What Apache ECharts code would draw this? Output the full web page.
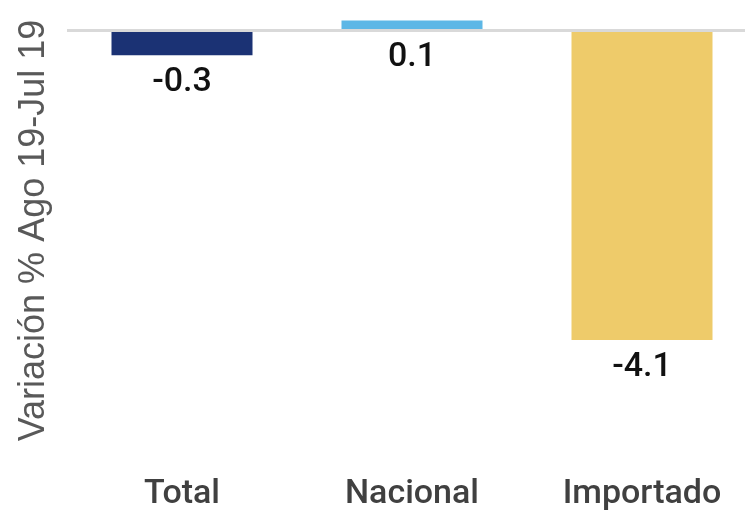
<!DOCTYPE html>
<html>
<head>
<meta charset="utf-8">
<script src="https://cdn.jsdelivr.net/npm/echarts@6/dist/echarts.min.js"></script>
<style>html,body{margin:0;padding:0;background:#fff;}#c{width:745px;height:513px;}</style>
</head>
<body>
<div id="c"></div>
<script>
const categories = ['Total', 'Nacional', 'Importado'];
const values = [-0.33, 0.13, -4.1];
const colors = ['#1b3274', '#5db7e6', '#eecb6a'];
const yAxisName = 'Variación % Ago 19-Jul 19';

const chart = echarts.init(document.getElementById('c'));
chart.setOption({
  animation: false,
  grid: { left: 67, top: 0, width: 690, height: 461, outerBoundsMode: 'none', containLabel: false },
  xAxis: {
    type: 'category',
    data: categories,
    axisLine: { show: false, onZero: false },
    axisTick: { show: false },
    axisLabel: { margin: 16, fontSize: 34, fontFamily: 'Roboto', fontWeight: 500, color: '#404040' }
  },
  yAxis: {
    type: 'value',
    min: -5.7,
    max: 0.4,
    axisLine: { show: false },
    axisTick: { show: false },
    axisLabel: { show: false },
    splitLine: { show: false },
    name: yAxisName,
    nameLocation: 'middle',
    nameRotate: 90,
    nameGap: 15,
    nameTextStyle: { fontSize: 36, fontFamily: 'Liberation Sans', color: '#595959' }
  },
  series: [{
    type: 'bar',
    barWidth: 141,
    data: values.map((v, i) => ({ value: v, itemStyle: { color: colors[i] } })),
    label: {
      show: true,
      position: 'bottom',
      distance: 10,
      fontSize: 34,
      fontFamily: 'Roboto',
      fontWeight: 500,
      color: '#111',
      formatter: p => p.value.toFixed(1)
    },
    markLine: {
      silent: true,
      symbol: 'none',
      label: { show: false },
      lineStyle: { color: '#d9d9d9', width: 3, type: 'solid' },
      data: [{ yAxis: 0 }]
    }
  }]
});
</script>
</body>
</html>
